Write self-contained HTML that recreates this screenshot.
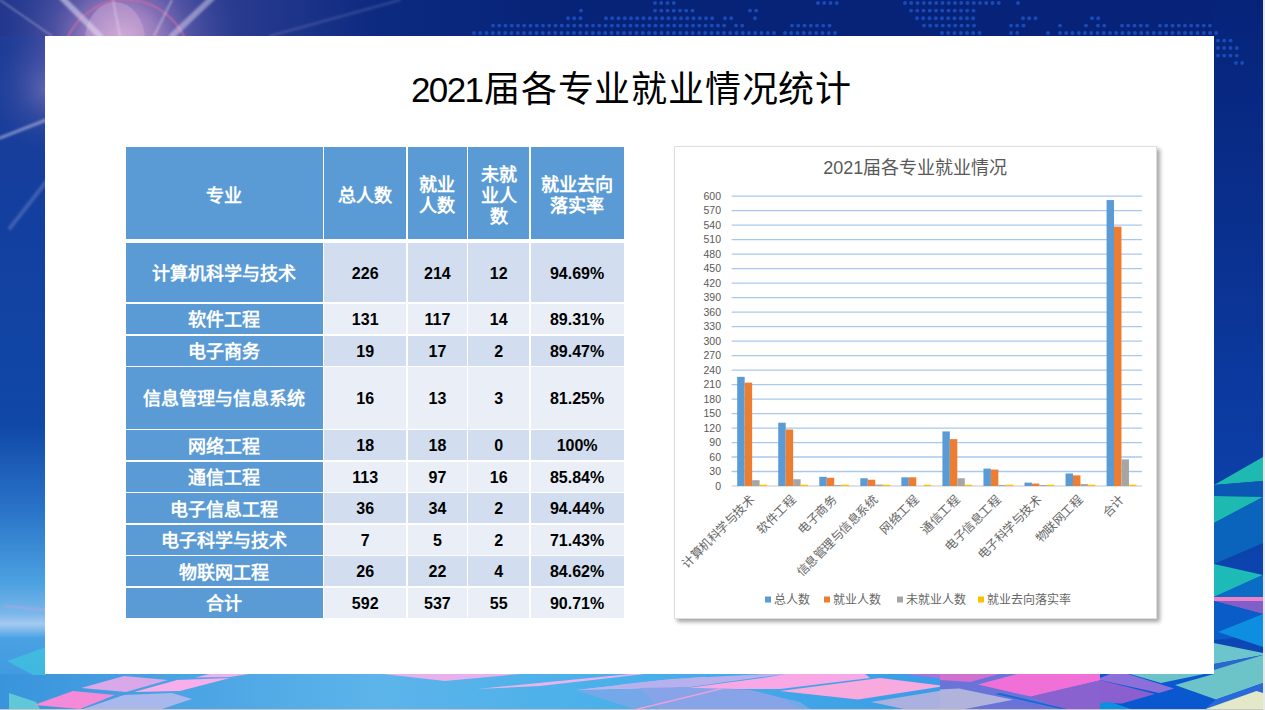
<!DOCTYPE html>
<html lang="zh-CN"><head><meta charset="utf-8">
<style>
html,body{margin:0;padding:0;}
body{width:1265px;height:710px;overflow:hidden;background:#e8e8e8;position:relative;font-family:"Liberation Sans",sans-serif;}
#bg{position:absolute;left:0;top:0;width:1263px;height:709px;}
#panel{position:absolute;left:45px;top:36px;width:1169px;height:638px;background:#fff;}
#title{position:absolute;left:45px;width:1163px;padding-left:5px;text-align:center;letter-spacing:0.8px;top:66px;height:48px;font-size:36px;line-height:48px;color:#000;white-space:nowrap;}
#title .d{font-size:35px;letter-spacing:-1.6px;margin-right:1.6px;}
.c{position:absolute;display:flex;align-items:center;justify-content:center;text-align:center;box-sizing:border-box;}
.h{background:#5B9BD5;color:#fff;font-family:"Liberation Sans",sans-serif;font-weight:bold;font-size:18px;line-height:21px;padding-top:6.5px;}
.f{background:#5B9BD5;color:#fff;font-family:"Liberation Sans",sans-serif;font-weight:bold;font-size:18px;line-height:22px;padding-top:3px;}
.n{color:#000;font-weight:bold;font-size:16px;line-height:20px;padding-top:2.5px;}
.dk{background:#D2DEEF;}
.lt{background:#EAEFF7;}
#chart{position:absolute;left:674px;top:146px;width:483px;height:473px;background:#fff;border:1px solid #dedede;box-sizing:border-box;box-shadow:3px 3px 4px rgba(0,0,0,0.35);}
</style></head><body>
<svg id="bg" width="1263" height="709" viewBox="0 0 1263 709">
<defs>
 <linearGradient id="gL" x1="0" y1="0" x2="0" y2="709" gradientUnits="userSpaceOnUse">
  <stop offset="0" stop-color="#223c94"/>
  <stop offset="0.3" stop-color="#133f9f"/>
  <stop offset="0.6" stop-color="#1048a8"/>
  <stop offset="0.72" stop-color="#2a74c8"/>
  <stop offset="0.82" stop-color="#4aa0e0"/>
  <stop offset="0.865" stop-color="#7ab6ea"/>
  <stop offset="0.88" stop-color="#a4caf0"/>
  <stop offset="0.9" stop-color="#4aa2e4"/>
  <stop offset="1" stop-color="#3a94dc"/>
 </linearGradient>
 <linearGradient id="gT" x1="0" y1="0" x2="1263" y2="0" gradientUnits="userSpaceOnUse">
  <stop offset="0" stop-color="#22388e"/>
  <stop offset="0.12" stop-color="#3a4598"/>
  <stop offset="0.3" stop-color="#0c2a80"/>
  <stop offset="0.45" stop-color="#062378"/>
  <stop offset="1" stop-color="#062379"/>
 </linearGradient>
 <linearGradient id="gR" x1="0" y1="0" x2="0" y2="709" gradientUnits="userSpaceOnUse">
  <stop offset="0" stop-color="#062379"/>
  <stop offset="0.35" stop-color="#0a3190"/>
  <stop offset="0.65" stop-color="#0c3ea6"/>
  <stop offset="1" stop-color="#0c4ab8"/>
 </linearGradient>
 <linearGradient id="gB" x1="0" y1="0" x2="1263" y2="0" gradientUnits="userSpaceOnUse">
  <stop offset="0" stop-color="#3a94dc"/>
  <stop offset="0.3" stop-color="#5cb4ea"/>
  <stop offset="0.5" stop-color="#48b0ea"/>
  <stop offset="0.75" stop-color="#3a9ce6"/>
  <stop offset="1" stop-color="#1a70d8"/>
 </linearGradient>
 <radialGradient id="gF" cx="122" cy="42" r="118" gradientUnits="userSpaceOnUse">
  <stop offset="0" stop-color="#d8b0d8" stop-opacity="0.95"/>
  <stop offset="0.3" stop-color="#b08ac8" stop-opacity="0.8"/>
  <stop offset="0.6" stop-color="#6a62b0" stop-opacity="0.5"/>
  <stop offset="1" stop-color="#3a4a9e" stop-opacity="0"/>
 </radialGradient>
 <radialGradient id="gF2" cx="48" cy="90" r="60" gradientUnits="userSpaceOnUse">
  <stop offset="0" stop-color="#8a80c0" stop-opacity="0.55"/>
  <stop offset="1" stop-color="#3a4a9e" stop-opacity="0"/>
 </radialGradient>
 <filter id="bl" x="-20%" y="-20%" width="140%" height="140%"><feGaussianBlur stdDeviation="0.8"/></filter>
</defs>
<rect x="0" y="0" width="1263" height="709" fill="url(#gL)"/>
<rect x="0" y="0" width="1263" height="36" fill="url(#gT)"/>
<rect x="1214" y="0" width="49" height="709" fill="url(#gR)"/>
<rect x="0" y="0" width="300" height="200" fill="url(#gF)"/>
<rect x="0" y="36" width="46" height="140" fill="url(#gF2)"/>
<circle cx="126" cy="64" r="64" fill="none" stroke="#c86aa8" stroke-opacity="0.5" stroke-width="3"/>
<ellipse cx="115" cy="40" rx="30" ry="38" fill="#e0b8e0" fill-opacity="0.35"/>
<g stroke="#e8e0f4" stroke-linecap="round" filter="url(#bl)">
 <line x1="0" y1="0" x2="52" y2="36" stroke-width="1.2" stroke-opacity="0.5"/>
 <line x1="62" y1="-2" x2="100" y2="36" stroke-width="6" stroke-opacity="0.55"/>
 <line x1="113" y1="0" x2="120" y2="36" stroke-width="1.2" stroke-opacity="0.7"/>
 <line x1="172" y1="0" x2="154" y2="36" stroke-width="1.2" stroke-opacity="0.7"/>
 <line x1="212" y1="-2" x2="172" y2="36" stroke-width="6" stroke-opacity="0.45"/>
 <line x1="400" y1="0" x2="270" y2="36" stroke-width="2.5" stroke-opacity="0.15"/>
 <line x1="0" y1="138" x2="46" y2="120" stroke-width="3" stroke-opacity="0.45"/>
 <line x1="10" y1="228" x2="46" y2="182" stroke-width="4" stroke-opacity="0.2"/>
 <line x1="4" y1="606" x2="46" y2="610" stroke="#e8a0d8" stroke-width="1" stroke-opacity="0.7"/>
</g>
<g fill="#1a4ab8"><circle cx="655.0" cy="3" r="1.95"/><circle cx="661.2" cy="3" r="1.95"/><circle cx="667.5" cy="3" r="1.95"/><circle cx="673.8" cy="3" r="1.95"/><circle cx="818.0" cy="3" r="1.95"/><circle cx="824.2" cy="3" r="1.95"/><circle cx="830.5" cy="3" r="1.95"/><circle cx="836.8" cy="3" r="1.95"/><circle cx="905.0" cy="3" r="1.95"/><circle cx="911.2" cy="3" r="1.95"/><circle cx="917.5" cy="3" r="1.95"/><circle cx="923.8" cy="3" r="1.95"/><circle cx="930.0" cy="3" r="1.95"/><circle cx="936.2" cy="3" r="1.95"/><circle cx="942.5" cy="3" r="1.95"/><circle cx="948.8" cy="3" r="1.95"/><circle cx="955.0" cy="3" r="1.95"/><circle cx="961.2" cy="3" r="1.95"/><circle cx="967.5" cy="3" r="1.95"/><circle cx="973.8" cy="3" r="1.95"/><circle cx="980.0" cy="3" r="1.95"/><circle cx="986.2" cy="3" r="1.95"/><circle cx="992.5" cy="3" r="1.95"/><circle cx="998.8" cy="3" r="1.95"/><circle cx="1018.0" cy="3" r="1.95"/><circle cx="581.0" cy="10.6" r="1.95"/><circle cx="655.0" cy="10.6" r="1.95"/><circle cx="661.2" cy="10.6" r="1.95"/><circle cx="667.5" cy="10.6" r="1.95"/><circle cx="673.8" cy="10.6" r="1.95"/><circle cx="680.0" cy="10.6" r="1.95"/><circle cx="686.2" cy="10.6" r="1.95"/><circle cx="692.5" cy="10.6" r="1.95"/><circle cx="750.0" cy="10.6" r="1.95"/><circle cx="756.2" cy="10.6" r="1.95"/><circle cx="911.0" cy="10.6" r="1.95"/><circle cx="917.2" cy="10.6" r="1.95"/><circle cx="923.5" cy="10.6" r="1.95"/><circle cx="929.8" cy="10.6" r="1.95"/><circle cx="936.0" cy="10.6" r="1.95"/><circle cx="942.2" cy="10.6" r="1.95"/><circle cx="948.5" cy="10.6" r="1.95"/><circle cx="954.8" cy="10.6" r="1.95"/><circle cx="961.0" cy="10.6" r="1.95"/><circle cx="967.2" cy="10.6" r="1.95"/><circle cx="973.5" cy="10.6" r="1.95"/><circle cx="568.0" cy="18.2" r="1.95"/><circle cx="574.2" cy="18.2" r="1.95"/><circle cx="580.5" cy="18.2" r="1.95"/><circle cx="606.0" cy="18.2" r="1.95"/><circle cx="612.2" cy="18.2" r="1.95"/><circle cx="618.5" cy="18.2" r="1.95"/><circle cx="624.8" cy="18.2" r="1.95"/><circle cx="631.0" cy="18.2" r="1.95"/><circle cx="637.2" cy="18.2" r="1.95"/><circle cx="643.5" cy="18.2" r="1.95"/><circle cx="649.8" cy="18.2" r="1.95"/><circle cx="656.0" cy="18.2" r="1.95"/><circle cx="662.2" cy="18.2" r="1.95"/><circle cx="668.5" cy="18.2" r="1.95"/><circle cx="674.8" cy="18.2" r="1.95"/><circle cx="681.0" cy="18.2" r="1.95"/><circle cx="687.2" cy="18.2" r="1.95"/><circle cx="693.5" cy="18.2" r="1.95"/><circle cx="699.8" cy="18.2" r="1.95"/><circle cx="706.0" cy="18.2" r="1.95"/><circle cx="712.2" cy="18.2" r="1.95"/><circle cx="725.0" cy="18.2" r="1.95"/><circle cx="731.2" cy="18.2" r="1.95"/><circle cx="755.0" cy="18.2" r="1.95"/><circle cx="917.0" cy="18.2" r="1.95"/><circle cx="923.2" cy="18.2" r="1.95"/><circle cx="929.5" cy="18.2" r="1.95"/><circle cx="935.8" cy="18.2" r="1.95"/><circle cx="942.0" cy="18.2" r="1.95"/><circle cx="948.2" cy="18.2" r="1.95"/><circle cx="954.5" cy="18.2" r="1.95"/><circle cx="960.8" cy="18.2" r="1.95"/><circle cx="967.0" cy="18.2" r="1.95"/><circle cx="973.2" cy="18.2" r="1.95"/><circle cx="1023.0" cy="18.2" r="1.95"/><circle cx="1029.2" cy="18.2" r="1.95"/><circle cx="1035.5" cy="18.2" r="1.95"/><circle cx="1092.0" cy="18.2" r="1.95"/><circle cx="1098.2" cy="18.2" r="1.95"/><circle cx="493.0" cy="25.6" r="1.95"/><circle cx="499.2" cy="25.6" r="1.95"/><circle cx="505.5" cy="25.6" r="1.95"/><circle cx="511.8" cy="25.6" r="1.95"/><circle cx="518.0" cy="25.6" r="1.95"/><circle cx="524.2" cy="25.6" r="1.95"/><circle cx="530.5" cy="25.6" r="1.95"/><circle cx="536.8" cy="25.6" r="1.95"/><circle cx="543.0" cy="25.6" r="1.95"/><circle cx="549.2" cy="25.6" r="1.95"/><circle cx="555.5" cy="25.6" r="1.95"/><circle cx="561.8" cy="25.6" r="1.95"/><circle cx="568.0" cy="25.6" r="1.95"/><circle cx="574.2" cy="25.6" r="1.95"/><circle cx="580.5" cy="25.6" r="1.95"/><circle cx="586.8" cy="25.6" r="1.95"/><circle cx="593.0" cy="25.6" r="1.95"/><circle cx="599.2" cy="25.6" r="1.95"/><circle cx="605.5" cy="25.6" r="1.95"/><circle cx="611.8" cy="25.6" r="1.95"/><circle cx="618.0" cy="25.6" r="1.95"/><circle cx="624.2" cy="25.6" r="1.95"/><circle cx="630.5" cy="25.6" r="1.95"/><circle cx="636.8" cy="25.6" r="1.95"/><circle cx="643.0" cy="25.6" r="1.95"/><circle cx="649.2" cy="25.6" r="1.95"/><circle cx="655.5" cy="25.6" r="1.95"/><circle cx="661.8" cy="25.6" r="1.95"/><circle cx="668.0" cy="25.6" r="1.95"/><circle cx="674.2" cy="25.6" r="1.95"/><circle cx="680.5" cy="25.6" r="1.95"/><circle cx="686.8" cy="25.6" r="1.95"/><circle cx="693.0" cy="25.6" r="1.95"/><circle cx="699.2" cy="25.6" r="1.95"/><circle cx="705.5" cy="25.6" r="1.95"/><circle cx="711.8" cy="25.6" r="1.95"/><circle cx="718.0" cy="25.6" r="1.95"/><circle cx="724.2" cy="25.6" r="1.95"/><circle cx="736.0" cy="25.6" r="1.95"/><circle cx="742.2" cy="25.6" r="1.95"/><circle cx="792.0" cy="25.6" r="1.95"/><circle cx="798.2" cy="25.6" r="1.95"/><circle cx="804.5" cy="25.6" r="1.95"/><circle cx="810.8" cy="25.6" r="1.95"/><circle cx="817.0" cy="25.6" r="1.95"/><circle cx="823.2" cy="25.6" r="1.95"/><circle cx="829.5" cy="25.6" r="1.95"/><circle cx="924.0" cy="25.6" r="1.95"/><circle cx="930.2" cy="25.6" r="1.95"/><circle cx="936.5" cy="25.6" r="1.95"/><circle cx="942.8" cy="25.6" r="1.95"/><circle cx="949.0" cy="25.6" r="1.95"/><circle cx="955.2" cy="25.6" r="1.95"/><circle cx="961.5" cy="25.6" r="1.95"/><circle cx="967.8" cy="25.6" r="1.95"/><circle cx="974.0" cy="25.6" r="1.95"/><circle cx="1011.0" cy="25.6" r="1.95"/><circle cx="1017.2" cy="25.6" r="1.95"/><circle cx="1023.5" cy="25.6" r="1.95"/><circle cx="1060.0" cy="25.6" r="1.95"/><circle cx="1086.0" cy="25.6" r="1.95"/><circle cx="1098.0" cy="25.6" r="1.95"/><circle cx="1104.2" cy="25.6" r="1.95"/><circle cx="1122.0" cy="25.6" r="1.95"/><circle cx="1128.2" cy="25.6" r="1.95"/><circle cx="1134.5" cy="25.6" r="1.95"/><circle cx="1140.8" cy="25.6" r="1.95"/><circle cx="1147.0" cy="25.6" r="1.95"/><circle cx="1160.0" cy="25.6" r="1.95"/><circle cx="1166.2" cy="25.6" r="1.95"/><circle cx="1172.5" cy="25.6" r="1.95"/><circle cx="1178.8" cy="25.6" r="1.95"/><circle cx="1185.0" cy="25.6" r="1.95"/><circle cx="1191.2" cy="25.6" r="1.95"/><circle cx="1197.5" cy="25.6" r="1.95"/><circle cx="1203.8" cy="25.6" r="1.95"/><circle cx="1210.0" cy="25.6" r="1.95"/><circle cx="474.0" cy="33" r="1.95"/><circle cx="480.2" cy="33" r="1.95"/><circle cx="486.5" cy="33" r="1.95"/><circle cx="492.8" cy="33" r="1.95"/><circle cx="499.0" cy="33" r="1.95"/><circle cx="505.2" cy="33" r="1.95"/><circle cx="511.5" cy="33" r="1.95"/><circle cx="517.8" cy="33" r="1.95"/><circle cx="524.0" cy="33" r="1.95"/><circle cx="530.2" cy="33" r="1.95"/><circle cx="536.5" cy="33" r="1.95"/><circle cx="542.8" cy="33" r="1.95"/><circle cx="549.0" cy="33" r="1.95"/><circle cx="555.2" cy="33" r="1.95"/><circle cx="561.5" cy="33" r="1.95"/><circle cx="567.8" cy="33" r="1.95"/><circle cx="574.0" cy="33" r="1.95"/><circle cx="580.2" cy="33" r="1.95"/><circle cx="586.5" cy="33" r="1.95"/><circle cx="592.8" cy="33" r="1.95"/><circle cx="599.0" cy="33" r="1.95"/><circle cx="605.2" cy="33" r="1.95"/><circle cx="611.5" cy="33" r="1.95"/><circle cx="617.8" cy="33" r="1.95"/><circle cx="624.0" cy="33" r="1.95"/><circle cx="630.2" cy="33" r="1.95"/><circle cx="636.5" cy="33" r="1.95"/><circle cx="642.8" cy="33" r="1.95"/><circle cx="649.0" cy="33" r="1.95"/><circle cx="655.2" cy="33" r="1.95"/><circle cx="661.5" cy="33" r="1.95"/><circle cx="667.8" cy="33" r="1.95"/><circle cx="674.0" cy="33" r="1.95"/><circle cx="680.2" cy="33" r="1.95"/><circle cx="686.5" cy="33" r="1.95"/><circle cx="692.8" cy="33" r="1.95"/><circle cx="699.0" cy="33" r="1.95"/><circle cx="705.2" cy="33" r="1.95"/><circle cx="711.5" cy="33" r="1.95"/><circle cx="717.8" cy="33" r="1.95"/><circle cx="724.0" cy="33" r="1.95"/><circle cx="730.2" cy="33" r="1.95"/><circle cx="736.5" cy="33" r="1.95"/><circle cx="742.8" cy="33" r="1.95"/><circle cx="749.0" cy="33" r="1.95"/><circle cx="755.2" cy="33" r="1.95"/><circle cx="761.5" cy="33" r="1.95"/><circle cx="767.8" cy="33" r="1.95"/><circle cx="774.0" cy="33" r="1.95"/><circle cx="785.0" cy="33" r="1.95"/><circle cx="791.2" cy="33" r="1.95"/><circle cx="797.5" cy="33" r="1.95"/><circle cx="803.8" cy="33" r="1.95"/><circle cx="810.0" cy="33" r="1.95"/><circle cx="816.2" cy="33" r="1.95"/><circle cx="822.5" cy="33" r="1.95"/><circle cx="828.8" cy="33" r="1.95"/><circle cx="835.0" cy="33" r="1.95"/><circle cx="942.0" cy="33" r="1.95"/><circle cx="948.2" cy="33" r="1.95"/><circle cx="954.5" cy="33" r="1.95"/><circle cx="960.8" cy="33" r="1.95"/><circle cx="967.0" cy="33" r="1.95"/><circle cx="973.2" cy="33" r="1.95"/><circle cx="979.5" cy="33" r="1.95"/><circle cx="1011.0" cy="33" r="1.95"/><circle cx="1017.2" cy="33" r="1.95"/><circle cx="1048.0" cy="33" r="1.95"/><circle cx="1060.0" cy="33" r="1.95"/><circle cx="1066.2" cy="33" r="1.95"/><circle cx="1072.5" cy="33" r="1.95"/><circle cx="1078.8" cy="33" r="1.95"/><circle cx="1085.0" cy="33" r="1.95"/><circle cx="1091.2" cy="33" r="1.95"/><circle cx="1097.5" cy="33" r="1.95"/><circle cx="1103.8" cy="33" r="1.95"/><circle cx="1110.0" cy="33" r="1.95"/><circle cx="1116.2" cy="33" r="1.95"/><circle cx="1122.5" cy="33" r="1.95"/><circle cx="1128.8" cy="33" r="1.95"/><circle cx="1135.0" cy="33" r="1.95"/><circle cx="1141.2" cy="33" r="1.95"/><circle cx="1147.5" cy="33" r="1.95"/><circle cx="1153.8" cy="33" r="1.95"/><circle cx="1160.0" cy="33" r="1.95"/><circle cx="1166.2" cy="33" r="1.95"/><circle cx="1172.5" cy="33" r="1.95"/><circle cx="1178.8" cy="33" r="1.95"/><circle cx="1185.0" cy="33" r="1.95"/><circle cx="1191.2" cy="33" r="1.95"/><circle cx="1197.5" cy="33" r="1.95"/><circle cx="1203.8" cy="33" r="1.95"/><circle cx="1210.0" cy="33" r="1.95"/><circle cx="1216.2" cy="33" r="1.95"/><circle cx="1218.0" cy="40.6" r="1.95"/><circle cx="1224.2" cy="40.6" r="1.95"/><circle cx="1230.5" cy="40.6" r="1.95"/><circle cx="1218.0" cy="48" r="1.95"/><circle cx="1224.2" cy="48" r="1.95"/><circle cx="1230.5" cy="48" r="1.95"/><circle cx="1236.8" cy="48" r="1.95"/><circle cx="1218.0" cy="55.6" r="1.95"/><circle cx="1224.2" cy="55.6" r="1.95"/><circle cx="1230.5" cy="55.6" r="1.95"/><circle cx="1236.8" cy="55.6" r="1.95"/><circle cx="1236.0" cy="63" r="1.95"/><circle cx="1242.2" cy="63" r="1.95"/></g>
<!-- right strip -->
<polygon points="1214,485 1263,457 1263,481" fill="#1ebab2"/>
<polygon points="1214,485 1263,481 1263,497 1214,496" fill="#0a58b4"/>
<polygon points="1214,496 1263,497 1214,523" fill="#1ebab2"/>
<polygon points="1214,523 1263,497 1263,543 1214,564" fill="#0a64bc"/>
<polygon points="1214,564 1263,575 1214,597" fill="#1ebab8"/>
<polygon points="1214,597 1263,575 1263,597" fill="#0a6cc4"/>
<rect x="1214" y="597" width="49" height="4" fill="#f080c8"/>
<polygon points="1214,601 1263,601 1263,614" fill="#8060c8"/>
<polygon points="1214,601 1263,614 1263,635 1214,640" fill="#0a5cc8"/>
<polygon points="1218,632 1263,614 1263,647" fill="#0d8ee0"/>
<polygon points="1214,643 1263,653 1263,655 1214,664" fill="#6cc4cc"/>
<polygon points="1214,664 1263,655 1263,662 1214,674" fill="#2a68d0"/>
<!-- bottom band -->
<rect x="0" y="674" width="1263" height="35" fill="url(#gB)"/>
<!-- left bottom -->
<polygon points="7,661 46,647 46,675 33,675" fill="#40c0e0" fill-opacity="0.8"/>
<polygon points="9,693 9,709 40,709 36,702" fill="#60c8d8"/>
<!-- bottom polygons -->
<polygon points="83,709 124,695 172,693 192,699 162,709" fill="#a8b8ec"/>
<polygon points="34,705 73,691 115,695 80,709" fill="#f48ad8"/>
<polygon points="81,688 124,676 168,680 126,692" fill="#d8a8e8"/>
<polygon points="134,692 177,680 230,678 180,691" fill="#f8aeea"/>
<polygon points="195,677.6 210,674 249,674 230,677" fill="#f0b0ec"/>
<polygon points="383,674 520,674 445,681" fill="#e8b0ec"/>
<polygon points="477,689 631,674 645,674 540,686" fill="#e8b4ee"/>
<polygon points="577,690 630,684 640,688" fill="#d8b8f0" fill-opacity="0.8"/>
<polygon points="576,690 664,680 705,676.7 705,683 673,688" fill="#b8b4ec"/>
<polygon points="620,684.6 672,679 766,674 785,674 690,687 620,688.5" fill="#b8b0ec"/>
<polygon points="576,690.4 673,688 750,690 800,702 810,709 634,709" fill="#74a8e8"/>
<polygon points="640,688 690,687 750,690 785,699 800,709 660,709" fill="#88a4e8"/>
<polygon points="635,709 719,688.5 723,689 641,709" fill="#f0a0d8"/>
<polygon points="689,687.8 766,677.4 785,674 865,674 870,678 780,689 737,689" fill="#f8a8e6"/>
<polygon points="780,691 880,678 945,686 858,699.5" fill="#f8aade"/>
<polygon points="871,702 945,690 945,709 904,709" fill="#aab0e0"/>
<polygon points="904,674 945,674 945,679" fill="#b070d8"/>
<rect x="940" y="674" width="170" height="35" fill="#6a74d8"/>
<polygon points="940,674 999,674 970,682 940,680" fill="#d070d0"/>
<polygon points="940,689.5 959,688.4 1013,699.7 965,709 940,709" fill="#b0b4dc"/>
<polygon points="978,684.6 1017,674 1110,674 1110,678 1031,696.6" fill="#f070d8"/>
<polygon points="1031,696.6 1110,678 1155,694 1122,703.5 1100,709 1062,709" fill="#8a62d0"/>
<polygon points="995,694 1000,693 1067,709 1060,709" fill="#1a68d8"/>
<rect x="1100" y="674" width="163" height="35" fill="#0a58d0"/>
<polygon points="1100,678 1110,674 1128,674 1174,688.5 1159,693 1100,680" fill="#8a70d8"/>
<polygon points="1100,680 1155,694 1122,703.5 1100,703" fill="#8a60d0"/>
<polygon points="1130,674 1204,674 1161,683" fill="#6cc4c8"/>
<polygon points="1175,685 1214,674 1214,670 1263,655 1263,683 1216,699.5" fill="#6cc4c8"/>
<polygon points="1216,699.5 1263,683 1263,693 1240,700 1205,709" fill="#2a6ad8"/>
<polygon points="1205.6,709 1256.5,691 1263,693 1263,709" fill="#e2e8c8"/>
<polygon points="1100,703 1110,702 1131,709 1100,709" fill="#0a90e0"/>
</svg>
<div style="position:absolute;left:0;top:709px;width:1263px;height:1px;background:#c6c6c6"></div>
<div id="panel"></div>
<div id="title"><span class="d">2021</span>届各专业就业情况统计</div>
<div id="table">
<div class="c h" style="left:126.0px;top:147.0px;width:196.8px;height:91.5px">专业</div>
<div class="c h" style="left:324.2px;top:147.0px;width:82.0px;height:91.5px">总人数</div>
<div class="c h" style="left:407.8px;top:147.0px;width:59.2px;height:91.5px">就业<br>人数</div>
<div class="c h" style="left:468.4px;top:147.0px;width:60.6px;height:91.5px">未就<br>业人<br>数</div>
<div class="c h" style="left:530.5px;top:147.0px;width:93.2px;height:91.5px">就业去向<br>落实率</div>
<div class="c f" style="left:126.0px;top:242.5px;width:196.8px;height:59.7px">计算机科学与技术</div>
<div class="c n dk" style="left:324.2px;top:242.5px;width:82.0px;height:59.7px">226</div>
<div class="c n dk" style="left:407.8px;top:242.5px;width:59.2px;height:59.7px">214</div>
<div class="c n dk" style="left:468.4px;top:242.5px;width:60.6px;height:59.7px">12</div>
<div class="c n dk" style="left:530.5px;top:242.5px;width:93.2px;height:59.7px">94.69%</div>
<div class="c f" style="left:126.0px;top:303.7px;width:196.8px;height:30.5px">软件工程</div>
<div class="c n lt" style="left:324.2px;top:303.7px;width:82.0px;height:30.5px">131</div>
<div class="c n lt" style="left:407.8px;top:303.7px;width:59.2px;height:30.5px">117</div>
<div class="c n lt" style="left:468.4px;top:303.7px;width:60.6px;height:30.5px">14</div>
<div class="c n lt" style="left:530.5px;top:303.7px;width:93.2px;height:30.5px">89.31%</div>
<div class="c f" style="left:126.0px;top:335.7px;width:196.8px;height:30.0px">电子商务</div>
<div class="c n dk" style="left:324.2px;top:335.7px;width:82.0px;height:30.0px">19</div>
<div class="c n dk" style="left:407.8px;top:335.7px;width:59.2px;height:30.0px">17</div>
<div class="c n dk" style="left:468.4px;top:335.7px;width:60.6px;height:30.0px">2</div>
<div class="c n dk" style="left:530.5px;top:335.7px;width:93.2px;height:30.0px">89.47%</div>
<div class="c f" style="left:126.0px;top:367.2px;width:196.8px;height:61.5px">信息管理与信息系统</div>
<div class="c n lt" style="left:324.2px;top:367.2px;width:82.0px;height:61.5px">16</div>
<div class="c n lt" style="left:407.8px;top:367.2px;width:59.2px;height:61.5px">13</div>
<div class="c n lt" style="left:468.4px;top:367.2px;width:60.6px;height:61.5px">3</div>
<div class="c n lt" style="left:530.5px;top:367.2px;width:93.2px;height:61.5px">81.25%</div>
<div class="c f" style="left:126.0px;top:430.2px;width:196.8px;height:30.0px">网络工程</div>
<div class="c n dk" style="left:324.2px;top:430.2px;width:82.0px;height:30.0px">18</div>
<div class="c n dk" style="left:407.8px;top:430.2px;width:59.2px;height:30.0px">18</div>
<div class="c n dk" style="left:468.4px;top:430.2px;width:60.6px;height:30.0px">0</div>
<div class="c n dk" style="left:530.5px;top:430.2px;width:93.2px;height:30.0px">100%</div>
<div class="c f" style="left:126.0px;top:461.7px;width:196.8px;height:30.0px">通信工程</div>
<div class="c n lt" style="left:324.2px;top:461.7px;width:82.0px;height:30.0px">113</div>
<div class="c n lt" style="left:407.8px;top:461.7px;width:59.2px;height:30.0px">97</div>
<div class="c n lt" style="left:468.4px;top:461.7px;width:60.6px;height:30.0px">16</div>
<div class="c n lt" style="left:530.5px;top:461.7px;width:93.2px;height:30.0px">85.84%</div>
<div class="c f" style="left:126.0px;top:493.2px;width:196.8px;height:30.0px">电子信息工程</div>
<div class="c n dk" style="left:324.2px;top:493.2px;width:82.0px;height:30.0px">36</div>
<div class="c n dk" style="left:407.8px;top:493.2px;width:59.2px;height:30.0px">34</div>
<div class="c n dk" style="left:468.4px;top:493.2px;width:60.6px;height:30.0px">2</div>
<div class="c n dk" style="left:530.5px;top:493.2px;width:93.2px;height:30.0px">94.44%</div>
<div class="c f" style="left:126.0px;top:524.7px;width:196.8px;height:30.0px">电子科学与技术</div>
<div class="c n lt" style="left:324.2px;top:524.7px;width:82.0px;height:30.0px">7</div>
<div class="c n lt" style="left:407.8px;top:524.7px;width:59.2px;height:30.0px">5</div>
<div class="c n lt" style="left:468.4px;top:524.7px;width:60.6px;height:30.0px">2</div>
<div class="c n lt" style="left:530.5px;top:524.7px;width:93.2px;height:30.0px">71.43%</div>
<div class="c f" style="left:126.0px;top:556.2px;width:196.8px;height:30.0px">物联网工程</div>
<div class="c n dk" style="left:324.2px;top:556.2px;width:82.0px;height:30.0px">26</div>
<div class="c n dk" style="left:407.8px;top:556.2px;width:59.2px;height:30.0px">22</div>
<div class="c n dk" style="left:468.4px;top:556.2px;width:60.6px;height:30.0px">4</div>
<div class="c n dk" style="left:530.5px;top:556.2px;width:93.2px;height:30.0px">84.62%</div>
<div class="c f" style="left:126.0px;top:587.7px;width:196.8px;height:30.3px">合计</div>
<div class="c n lt" style="left:324.2px;top:587.7px;width:82.0px;height:30.3px">592</div>
<div class="c n lt" style="left:407.8px;top:587.7px;width:59.2px;height:30.3px">537</div>
<div class="c n lt" style="left:468.4px;top:587.7px;width:60.6px;height:30.3px">55</div>
<div class="c n lt" style="left:530.5px;top:587.7px;width:93.2px;height:30.3px">90.71%</div>
</div>
<div id="chart">
<svg width="483" height="472" viewBox="0 0 483 472" style="position:absolute;left:-1px;top:-1px">
<line x1="57.6" x2="468.0" y1="325.51" y2="325.51" stroke="#A9C9EC" stroke-width="1.3"/>
<line x1="57.6" x2="468.0" y1="311.02" y2="311.02" stroke="#A9C9EC" stroke-width="1.3"/>
<line x1="57.6" x2="468.0" y1="296.53" y2="296.53" stroke="#A9C9EC" stroke-width="1.3"/>
<line x1="57.6" x2="468.0" y1="282.04" y2="282.04" stroke="#A9C9EC" stroke-width="1.3"/>
<line x1="57.6" x2="468.0" y1="267.55" y2="267.55" stroke="#A9C9EC" stroke-width="1.3"/>
<line x1="57.6" x2="468.0" y1="253.06" y2="253.06" stroke="#A9C9EC" stroke-width="1.3"/>
<line x1="57.6" x2="468.0" y1="238.57" y2="238.57" stroke="#A9C9EC" stroke-width="1.3"/>
<line x1="57.6" x2="468.0" y1="224.08" y2="224.08" stroke="#A9C9EC" stroke-width="1.3"/>
<line x1="57.6" x2="468.0" y1="209.59" y2="209.59" stroke="#A9C9EC" stroke-width="1.3"/>
<line x1="57.6" x2="468.0" y1="195.10" y2="195.10" stroke="#A9C9EC" stroke-width="1.3"/>
<line x1="57.6" x2="468.0" y1="180.61" y2="180.61" stroke="#A9C9EC" stroke-width="1.3"/>
<line x1="57.6" x2="468.0" y1="166.12" y2="166.12" stroke="#A9C9EC" stroke-width="1.3"/>
<line x1="57.6" x2="468.0" y1="151.63" y2="151.63" stroke="#A9C9EC" stroke-width="1.3"/>
<line x1="57.6" x2="468.0" y1="137.14" y2="137.14" stroke="#A9C9EC" stroke-width="1.3"/>
<line x1="57.6" x2="468.0" y1="122.65" y2="122.65" stroke="#A9C9EC" stroke-width="1.3"/>
<line x1="57.6" x2="468.0" y1="108.16" y2="108.16" stroke="#A9C9EC" stroke-width="1.3"/>
<line x1="57.6" x2="468.0" y1="93.67" y2="93.67" stroke="#A9C9EC" stroke-width="1.3"/>
<line x1="57.6" x2="468.0" y1="79.18" y2="79.18" stroke="#A9C9EC" stroke-width="1.3"/>
<line x1="57.6" x2="468.0" y1="64.69" y2="64.69" stroke="#A9C9EC" stroke-width="1.3"/>
<line x1="57.6" x2="468.0" y1="50.20" y2="50.20" stroke="#A9C9EC" stroke-width="1.3"/>
<line x1="57.6" x2="468.0" y1="340.00" y2="340.00" stroke="#D9D9D9" stroke-width="1.3"/>
<text x="47.0" y="343.80" text-anchor="end" font-size="10.5" fill="#595959" font-family="Liberation Sans">0</text>
<text x="47.0" y="329.31" text-anchor="end" font-size="10.5" fill="#595959" font-family="Liberation Sans">30</text>
<text x="47.0" y="314.82" text-anchor="end" font-size="10.5" fill="#595959" font-family="Liberation Sans">60</text>
<text x="47.0" y="300.33" text-anchor="end" font-size="10.5" fill="#595959" font-family="Liberation Sans">90</text>
<text x="47.0" y="285.84" text-anchor="end" font-size="10.5" fill="#595959" font-family="Liberation Sans">120</text>
<text x="47.0" y="271.35" text-anchor="end" font-size="10.5" fill="#595959" font-family="Liberation Sans">150</text>
<text x="47.0" y="256.86" text-anchor="end" font-size="10.5" fill="#595959" font-family="Liberation Sans">180</text>
<text x="47.0" y="242.37" text-anchor="end" font-size="10.5" fill="#595959" font-family="Liberation Sans">210</text>
<text x="47.0" y="227.88" text-anchor="end" font-size="10.5" fill="#595959" font-family="Liberation Sans">240</text>
<text x="47.0" y="213.39" text-anchor="end" font-size="10.5" fill="#595959" font-family="Liberation Sans">270</text>
<text x="47.0" y="198.90" text-anchor="end" font-size="10.5" fill="#595959" font-family="Liberation Sans">300</text>
<text x="47.0" y="184.41" text-anchor="end" font-size="10.5" fill="#595959" font-family="Liberation Sans">330</text>
<text x="47.0" y="169.92" text-anchor="end" font-size="10.5" fill="#595959" font-family="Liberation Sans">360</text>
<text x="47.0" y="155.43" text-anchor="end" font-size="10.5" fill="#595959" font-family="Liberation Sans">390</text>
<text x="47.0" y="140.94" text-anchor="end" font-size="10.5" fill="#595959" font-family="Liberation Sans">420</text>
<text x="47.0" y="126.45" text-anchor="end" font-size="10.5" fill="#595959" font-family="Liberation Sans">450</text>
<text x="47.0" y="111.96" text-anchor="end" font-size="10.5" fill="#595959" font-family="Liberation Sans">480</text>
<text x="47.0" y="97.47" text-anchor="end" font-size="10.5" fill="#595959" font-family="Liberation Sans">510</text>
<text x="47.0" y="82.98" text-anchor="end" font-size="10.5" fill="#595959" font-family="Liberation Sans">540</text>
<text x="47.0" y="68.49" text-anchor="end" font-size="10.5" fill="#595959" font-family="Liberation Sans">570</text>
<text x="47.0" y="54.00" text-anchor="end" font-size="10.5" fill="#595959" font-family="Liberation Sans">600</text>
<rect x="63.20" y="230.84" width="7.46" height="109.16" fill="#5B9BD5"/>
<rect x="70.66" y="236.64" width="7.46" height="103.36" fill="#ED7D31"/>
<rect x="78.12" y="334.20" width="7.46" height="5.80" fill="#A5A5A5"/>
<rect x="85.58" y="338.70" width="7.46" height="1.30" fill="#FFC000"/>
<rect x="104.24" y="276.73" width="7.46" height="63.27" fill="#5B9BD5"/>
<rect x="111.70" y="283.49" width="7.46" height="56.51" fill="#ED7D31"/>
<rect x="119.16" y="333.24" width="7.46" height="6.76" fill="#A5A5A5"/>
<rect x="126.62" y="338.70" width="7.46" height="1.30" fill="#FFC000"/>
<rect x="145.28" y="330.82" width="7.46" height="9.18" fill="#5B9BD5"/>
<rect x="152.74" y="331.79" width="7.46" height="8.21" fill="#ED7D31"/>
<rect x="160.20" y="339.03" width="7.46" height="0.97" fill="#A5A5A5"/>
<rect x="167.66" y="338.70" width="7.46" height="1.30" fill="#FFC000"/>
<rect x="186.32" y="332.27" width="7.46" height="7.73" fill="#5B9BD5"/>
<rect x="193.78" y="333.72" width="7.46" height="6.28" fill="#ED7D31"/>
<rect x="201.24" y="338.55" width="7.46" height="1.45" fill="#A5A5A5"/>
<rect x="208.70" y="338.70" width="7.46" height="1.30" fill="#FFC000"/>
<rect x="227.36" y="331.31" width="7.46" height="8.69" fill="#5B9BD5"/>
<rect x="234.82" y="331.31" width="7.46" height="8.69" fill="#ED7D31"/>
<rect x="242.28" y="340.00" width="7.46" height="0.00" fill="#A5A5A5"/>
<rect x="249.74" y="338.70" width="7.46" height="1.30" fill="#FFC000"/>
<rect x="268.40" y="285.42" width="7.46" height="54.58" fill="#5B9BD5"/>
<rect x="275.86" y="293.15" width="7.46" height="46.85" fill="#ED7D31"/>
<rect x="283.32" y="332.27" width="7.46" height="7.73" fill="#A5A5A5"/>
<rect x="290.78" y="338.70" width="7.46" height="1.30" fill="#FFC000"/>
<rect x="309.44" y="322.61" width="7.46" height="17.39" fill="#5B9BD5"/>
<rect x="316.90" y="323.58" width="7.46" height="16.42" fill="#ED7D31"/>
<rect x="324.36" y="339.03" width="7.46" height="0.97" fill="#A5A5A5"/>
<rect x="331.82" y="338.70" width="7.46" height="1.30" fill="#FFC000"/>
<rect x="350.48" y="336.62" width="7.46" height="3.38" fill="#5B9BD5"/>
<rect x="357.94" y="337.58" width="7.46" height="2.42" fill="#ED7D31"/>
<rect x="365.40" y="339.03" width="7.46" height="0.97" fill="#A5A5A5"/>
<rect x="372.86" y="338.70" width="7.46" height="1.30" fill="#FFC000"/>
<rect x="391.52" y="327.44" width="7.46" height="12.56" fill="#5B9BD5"/>
<rect x="398.98" y="329.37" width="7.46" height="10.63" fill="#ED7D31"/>
<rect x="406.44" y="338.07" width="7.46" height="1.93" fill="#A5A5A5"/>
<rect x="413.90" y="338.70" width="7.46" height="1.30" fill="#FFC000"/>
<rect x="432.56" y="54.06" width="7.46" height="285.94" fill="#5B9BD5"/>
<rect x="440.02" y="80.63" width="7.46" height="259.37" fill="#ED7D31"/>
<rect x="447.48" y="313.44" width="7.46" height="26.57" fill="#A5A5A5"/>
<rect x="454.94" y="338.70" width="7.46" height="1.30" fill="#FFC000"/>
<text transform="translate(81.1,355.0) rotate(-45)" text-anchor="end" font-size="12.2" fill="#666666" font-family="Liberation Sans">计算机科学与技术</text>
<text transform="translate(122.2,355.0) rotate(-45)" text-anchor="end" font-size="12.2" fill="#666666" font-family="Liberation Sans">软件工程</text>
<text transform="translate(163.2,355.0) rotate(-45)" text-anchor="end" font-size="12.2" fill="#666666" font-family="Liberation Sans">电子商务</text>
<text transform="translate(204.2,355.0) rotate(-45)" text-anchor="end" font-size="12.2" fill="#666666" font-family="Liberation Sans">信息管理与信息系统</text>
<text transform="translate(245.3,355.0) rotate(-45)" text-anchor="end" font-size="12.2" fill="#666666" font-family="Liberation Sans">网络工程</text>
<text transform="translate(286.3,355.0) rotate(-45)" text-anchor="end" font-size="12.2" fill="#666666" font-family="Liberation Sans">通信工程</text>
<text transform="translate(327.4,355.0) rotate(-45)" text-anchor="end" font-size="12.2" fill="#666666" font-family="Liberation Sans">电子信息工程</text>
<text transform="translate(368.4,355.0) rotate(-45)" text-anchor="end" font-size="12.2" fill="#666666" font-family="Liberation Sans">电子科学与技术</text>
<text transform="translate(409.4,355.0) rotate(-45)" text-anchor="end" font-size="12.2" fill="#666666" font-family="Liberation Sans">物联网工程</text>
<text transform="translate(450.5,355.0) rotate(-45)" text-anchor="end" font-size="12.2" fill="#666666" font-family="Liberation Sans">合计</text>
<text x="241.3" y="28.0" text-anchor="middle" font-size="18" fill="#595959" font-family="Liberation Sans">2021届各专业就业情况</text>
<rect x="91.0" y="450.5" width="6" height="6" fill="#5B9BD5"/>
<text x="100.0" y="457.5" font-size="12" fill="#666666" font-family="Liberation Sans">总人数</text>
<rect x="150.0" y="450.5" width="6" height="6" fill="#ED7D31"/>
<text x="159.0" y="457.5" font-size="12" fill="#666666" font-family="Liberation Sans">就业人数</text>
<rect x="223.0" y="450.5" width="6" height="6" fill="#A5A5A5"/>
<text x="232.0" y="457.5" font-size="12" fill="#666666" font-family="Liberation Sans">未就业人数</text>
<rect x="304.0" y="450.5" width="6" height="6" fill="#FFC000"/>
<text x="313.0" y="457.5" font-size="12" fill="#666666" font-family="Liberation Sans">就业去向落实率</text>
</svg>
</div>
</body></html>
